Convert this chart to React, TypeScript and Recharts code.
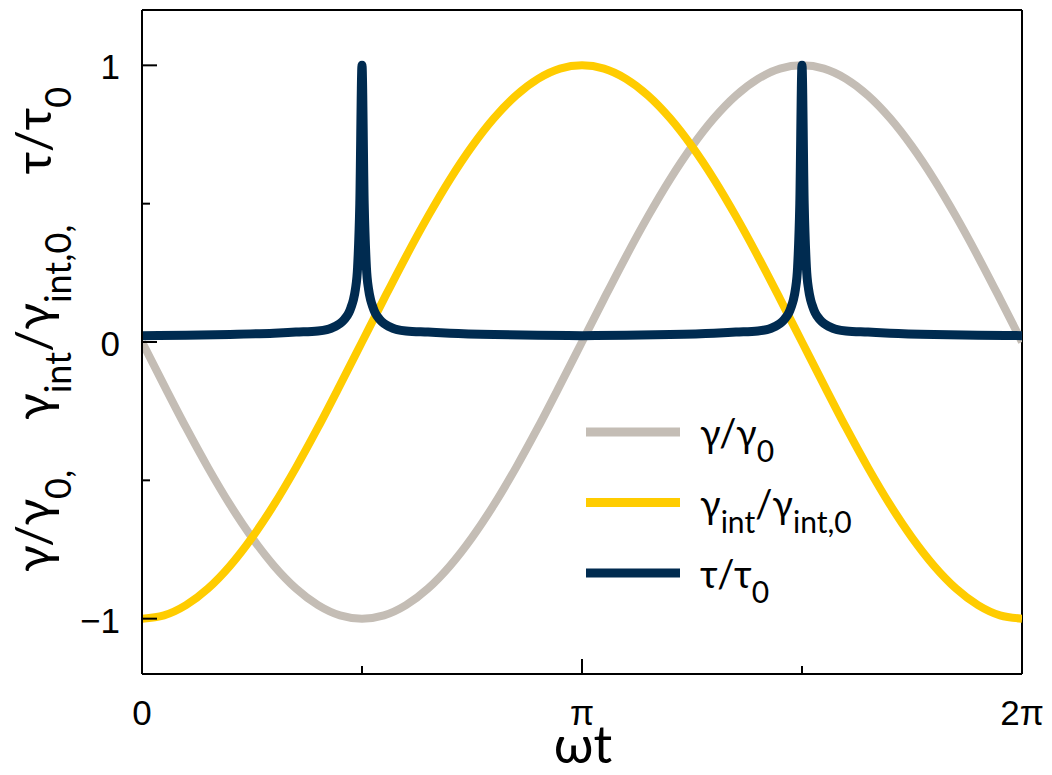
import { LineChart, Line, XAxis, YAxis, ReferenceLine, Legend } from "recharts";

// x positions in units of pi (0 .. 2pi)
const phase = [
  0, 0.05, 0.1, 0.15, 0.2, 0.25, 0.3, 0.35, 0.4, 0.45, 0.5, 0.55, 0.6, 0.65, 0.7, 0.75, 0.8, 0.85, 0.9, 0.95, 1,
  1.05, 1.1, 1.15, 1.2, 1.25, 1.3, 1.35, 1.4, 1.45, 1.5, 1.55, 1.6, 1.65, 1.7, 1.75, 1.8, 1.85, 1.9, 1.95, 2,
];
const gammaRatio = [
  0, -0.156, -0.309, -0.454, -0.588, -0.707, -0.809, -0.891, -0.951, -0.988, -1, -0.988, -0.951, -0.891, -0.809,
  -0.707, -0.588, -0.454, -0.309, -0.156, 0, 0.156, 0.309, 0.454, 0.588, 0.707, 0.809, 0.891, 0.951, 0.988, 1,
  0.988, 0.951, 0.891, 0.809, 0.707, 0.588, 0.454, 0.309, 0.156, 0,
];
const gammaIntRatio = [
  -1, -0.988, -0.951, -0.891, -0.809, -0.707, -0.588, -0.454, -0.309, -0.156, 0, 0.156, 0.309, 0.454, 0.588,
  0.707, 0.809, 0.891, 0.951, 0.988, 1, 0.988, 0.951, 0.891, 0.809, 0.707, 0.588, 0.454, 0.309, 0.156, 0,
  -0.156, -0.309, -0.454, -0.588, -0.707, -0.809, -0.891, -0.951, -0.988, -1,
];

// stress curve, sampled more densely near the spikes
const tauPhase = [
  0, 0.1, 0.2, 0.3, 0.35, 0.4, 0.42, 0.43, 0.44, 0.45, 0.46, 0.47, 0.475, 0.48, 0.485, 0.49, 0.495, 0.5,
  0.505, 0.51, 0.515, 0.52, 0.525, 0.53, 0.54, 0.55, 0.56, 0.57, 0.58, 0.6, 0.65, 0.7, 0.8, 0.9, 1,
  1.1, 1.2, 1.3, 1.35, 1.4, 1.42, 1.43, 1.44, 1.45, 1.46, 1.47, 1.475, 1.48, 1.485, 1.49, 1.495, 1.5,
  1.505, 1.51, 1.515, 1.52, 1.525, 1.53, 1.54, 1.55, 1.56, 1.57, 1.58, 1.6, 1.65, 1.7, 1.8, 1.9, 2,
];
const tauRatio = [
  0.023, 0.024, 0.027, 0.032, 0.036, 0.04, 0.045, 0.05, 0.057, 0.067, 0.082, 0.105, 0.125, 0.15, 0.19, 0.27, 0.5, 1,
  0.5, 0.27, 0.19, 0.15, 0.125, 0.105, 0.082, 0.067, 0.057, 0.05, 0.045, 0.04, 0.036, 0.032, 0.027, 0.024, 0.023,
  0.024, 0.027, 0.032, 0.036, 0.04, 0.045, 0.05, 0.057, 0.067, 0.082, 0.105, 0.125, 0.15, 0.19, 0.27, 0.5, 1,
  0.5, 0.27, 0.19, 0.15, 0.125, 0.105, 0.082, 0.067, 0.057, 0.05, 0.045, 0.04, 0.036, 0.032, 0.027, 0.024, 0.023,
];

const xTicks = [0, 0.5, 1, 1.5, 2];
const xTickLabels: Record<string, string> = { "0": "0", "1": "π", "2": "2π" };
const yTicks = [-1, -0.5, 0, 0.5, 1];
const yTickLabels: Record<string, string> = { "-1": "−1", "0": "0", "1": "1" };

const GRAY = "#c4bdb5";
const YELLOW = "#ffcc00";
const NAVY = "#002b50";

const waveData = phase.map((x, i) => ({ x, gamma: gammaRatio[i], gammaInt: gammaIntRatio[i] }));
const tauData = tauPhase.map((x, i) => ({ x, tau: tauRatio[i] }));

const TICK_FONT = "'Liberation Sans', Arial, sans-serif";
const LABEL_FONT = "Lato, sans-serif";

const XTick = (props: any) => {
  const { x, y, payload } = props;
  const label = xTickLabels[String(payload.value)];
  const len = payload.value === 1 ? 15 : 8;
  return (
    <g>
      {payload.value > 0 && payload.value < 2 && (
        <line x1={x} x2={x} y1={y} y2={y - len} stroke="#000" strokeWidth={2} />
      )}
      {label && (
        <text x={x} y={y + 51} textAnchor="middle" fontSize={35} fontFamily={TICK_FONT} fill="#000">
          {label}
        </text>
      )}
    </g>
  );
};

const YTick = (props: any) => {
  const { x, y, payload } = props;
  const label = yTickLabels[String(payload.value)];
  const len = label ? 15 : 8;
  return (
    <g>
      <line x1={x} x2={x + len} y1={y} y2={y} stroke="#000" strokeWidth={2} />
      {label && (
        <text x={x - 22} y={y + 14} textAnchor="end" fontSize={35} fontFamily={TICK_FONT} fill="#000">
          {label}
        </text>
      )}
    </g>
  );
};

const YLabel = () => (
  <text transform="rotate(-90)" x={-572} y={51} fontSize={49} fontFamily={LABEL_FONT} fill="#000">
    <tspan>γ/γ</tspan>
    <tspan fontSize={36} dy={20}>0,</tspan>
    <tspan dx={50} dy={-20}>γ</tspan>
    <tspan fontSize={36} dy={20}>int</tspan>
    <tspan dy={-20}>/γ</tspan>
    <tspan fontSize={36} dy={20}>int,0,</tspan>
    <tspan dx={50} dy={-20}>τ/τ</tspan>
    <tspan fontSize={36} dy={20}>0</tspan>
  </text>
);

const XLabel = () => (
  <text x={583} y={763} textAnchor="middle" fontSize={52} fontFamily={LABEL_FONT} fill="#000">
    ωt
  </text>
);

const legendRows = [
  { color: GRAY, main1: "γ/γ", sub1: "0", main2: "", sub2: "" },
  { color: YELLOW, main1: "γ", sub1: "int", main2: "/γ", sub2: "int,0" },
  { color: NAVY, main1: "τ/τ", sub1: "0", main2: "", sub2: "" },
];

const LegendBox = () => (
  <svg width={300} height={215}>
    {legendRows.map((r, i) => {
      const cy = 32 + i * 70.5;
      return (
        <g key={i}>
          <line x1={6} x2={100} y1={cy} y2={cy} stroke={r.color} strokeWidth={9} />
          <text x={120} y={cy + 15} fontSize={38} fontFamily={LABEL_FONT} fill="#000">
            <tspan>{r.main1}</tspan>
            <tspan fontSize={30} dy={15}>{r.sub1}</tspan>
            {r.main2 && <tspan dy={-15}>{r.main2}</tspan>}
            {r.sub2 && <tspan fontSize={30} dy={15}>{r.sub2}</tspan>}
          </text>
        </g>
      );
    })}
  </svg>
);

export default function App() {
  return (
    <div style={{ position: "absolute", left: 0, top: 0, background: "#fff" }}>
      <LineChart width={1052} height={775} margin={{ top: 10, right: 30, bottom: 71, left: 0 }}>
        <XAxis
          dataKey="x"
          type="number"
          domain={[0, 2]}
          ticks={xTicks}
          allowDataOverflow
          height={30}
          tickSize={0}
          tickMargin={0}
          tick={<XTick />}
          axisLine={{ stroke: "#000", strokeWidth: 2 }}
          label={<XLabel />}
        />
        <YAxis
          type="number"
          domain={[-1.2, 1.2]}
          ticks={yTicks}
          allowDataOverflow
          width={142}
          tickSize={0}
          tickMargin={0}
          tick={<YTick />}
          axisLine={{ stroke: "#000", strokeWidth: 2 }}
          label={<YLabel />}
        />
        <ReferenceLine y={1.2} stroke="#000" strokeWidth={2} ifOverflow="extendDomain" />
        <ReferenceLine x={2} stroke="#000" strokeWidth={2} ifOverflow="extendDomain" />
        <Line
          data={waveData}
          dataKey="gamma"
          name="γ/γ0"
          type="monotone"
          stroke={GRAY}
          strokeWidth={8}
          dot={false}
          activeDot={false}
          isAnimationActive={false}
        />
        <Line
          data={waveData}
          dataKey="gammaInt"
          name="γint/γint,0"
          type="monotone"
          stroke={YELLOW}
          strokeWidth={8}
          dot={false}
          activeDot={false}
          isAnimationActive={false}
        />
        <Line
          data={tauData}
          dataKey="tau"
          name="τ/τ0"
          type="monotone"
          stroke={NAVY}
          strokeWidth={9}
          strokeLinejoin="round"
          strokeLinecap="round"
          dot={false}
          activeDot={false}
          isAnimationActive={false}
        />
        <Legend
          layout="horizontal"
          verticalAlign="middle"
          align="center"
          content={<LegendBox />}
          wrapperStyle={{ left: 580, top: 400, width: 300, height: 215 }}
        />
      </LineChart>
    </div>
  );
}
